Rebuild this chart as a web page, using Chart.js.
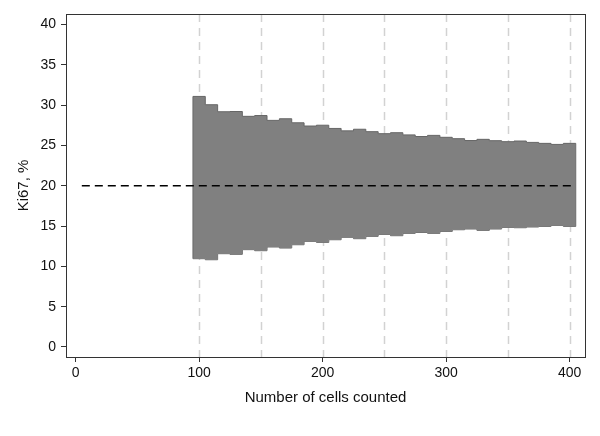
<!DOCTYPE html>
<html>
<head>
<meta charset="utf-8">
<script src="https://cdn.jsdelivr.net/npm/chart.js@4/dist/chart.umd.min.js"></script>
<style>
html,body{margin:0;padding:0;background:#fff;}
#wrap{width:600px;height:436px;position:relative;}
</style>
</head>
<body>
<div id="wrap"><canvas id="c" width="600" height="436"></canvas></div>
<script>
// Number of cells counted (bin centres)
const cellCounts = [100,110,120,130,140,150,160,170,180,190,200,210,220,230,240,250,260,270,280,290,300,310,320,330,340,350,360,370,380,390,400];
// Upper bound of Ki67 range, %
const upperKi67 = [31.07,30.04,29.17,29.2,28.6,28.7,28.1,28.3,27.8,27.4,27.5,27.1,26.8,27.0,26.7,26.45,26.57,26.3,26.1,26.24,26.0,25.83,25.6,25.75,25.58,25.46,25.54,25.37,25.25,25.12,25.25];
// Lower bound of Ki67 range, %
const lowerKi67 = [10.95,10.82,11.57,11.49,12.07,11.94,12.4,12.27,12.68,13.1,12.97,13.3,13.6,13.43,13.72,13.96,13.8,14.09,14.2,14.09,14.33,14.54,14.63,14.46,14.63,14.83,14.79,14.88,14.95,15.08,14.95];
const binWidth = 10;
// True Ki67 reference value and its span
const trueKi67 = 20;
const refLineX = [5, 405];
// Vertical reference lines
const refCounts = [100,150,200,250,300,350,400];
// Tick labels
const xTicks = [0,100,200,300,400];
const yTicks = [0,5,10,15,20,25,30,35,40];

function stepPoints(vals){
  const pts = cellCounts.map((c,i)=>({x:c-binWidth/2, y:vals[i]}));
  const n = cellCounts.length-1;
  pts.push({x:cellCounts[n]+binWidth/2, y:vals[n]});
  return pts;
}
const first = 0, last = cellCounts.length-1;

const frame = {
  id:'frame',
  beforeDatasetsDraw(chart){
    const {ctx, chartArea:a, scales:{x}} = chart;
    ctx.save();
    ctx.strokeStyle = '#d2d2d2';
    ctx.lineWidth = 1.5;
    ctx.setLineDash([8,6]);
    refCounts.forEach(v=>{
      const px = Math.round(x.getPixelForValue(v))+0.5;
      ctx.beginPath(); ctx.moveTo(px,a.top); ctx.lineTo(px,a.bottom); ctx.stroke();
    });
    ctx.restore();
  },
  afterDraw(chart){
    const {ctx, chartArea:a} = chart;
    ctx.save();
    ctx.strokeStyle = '#333';
    ctx.lineWidth = 1;
    ctx.strokeRect(Math.round(a.left)+0.5, Math.round(a.top)+0.5, Math.round(a.right-a.left), Math.round(a.bottom-a.top));
    ctx.restore();
  }
};

const font = {family:'"Liberation Sans", Arial, Helvetica, sans-serif', size:14};

new Chart(document.getElementById('c'), {
  type:'line',
  data:{
    datasets:[
      {data:refLineX.map(v=>({x:v,y:trueKi67})), borderColor:'#000', borderWidth:1.6, borderDash:[8,5], pointRadius:0, fill:false},
      {data:[{x:cellCounts[first]-binWidth/2,y:lowerKi67[first]},{x:cellCounts[first]-binWidth/2,y:upperKi67[first]}], borderColor:'#666', borderWidth:1, pointRadius:0, fill:false},
      {data:[{x:cellCounts[last]+binWidth/2,y:lowerKi67[last]},{x:cellCounts[last]+binWidth/2,y:upperKi67[last]}], borderColor:'#666', borderWidth:1, pointRadius:0, fill:false},
      {data:stepPoints(upperKi67), stepped:'before', borderColor:'#666', borderWidth:1, pointRadius:0, backgroundColor:'#808080', fill:'+1'},
      {data:stepPoints(lowerKi67), stepped:'before', borderColor:'#666', borderWidth:1, pointRadius:0, fill:false}
    ]
  },
  options:{
    responsive:false,
    animation:false,
    events:[],
    parsing:false,
    layout:{padding:{top:14,right:15,bottom:0,left:0}},
    plugins:{legend:{display:false}, tooltip:{enabled:false}},
    scales:{
      x:{
        type:'linear', min:-7.8, max:412.5,
        afterBuildTicks(s){ s.ticks = xTicks.map(v=>({value:v})); },
        afterFit(s){ s.height = 79; },
        grid:{drawOnChartArea:false, drawTicks:true, tickLength:5, color:'#333', lineWidth:1},
        border:{display:false},
        ticks:{font, color:'#111', padding:3, maxRotation:0, autoSkip:false},
        title:{display:true, text:'Number of cells counted', font:{family:font.family,size:15}, color:'#111', padding:{top:0,bottom:29}}
      },
      y:{
        type:'linear', min:-1.24, max:41.29,
        afterBuildTicks(s){ s.ticks = yTicks.map(v=>({value:v})); },
        afterFit(s){ s.width = 66; },
        grid:{drawOnChartArea:false, drawTicks:true, tickLength:5, color:'#333', lineWidth:1},
        border:{display:false},
        ticks:{font, color:'#111', padding:5, autoSkip:false},
        title:{display:true, text:'Ki67, %', font:{family:font.family,size:15}, color:'#111', padding:{top:15,bottom:0}}
      }
    }
  },
  plugins:[frame]
});
</script>
</body>
</html>
